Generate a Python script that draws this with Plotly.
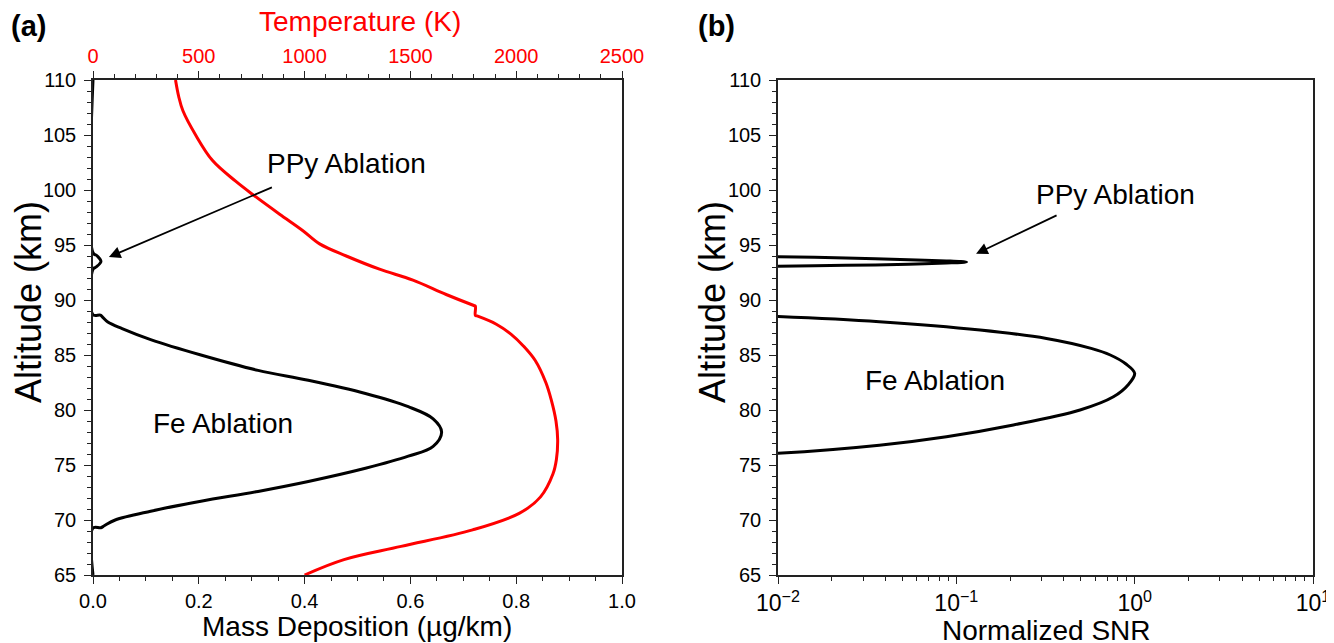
import math
import plotly.graph_objects as go

# ---------------- data ----------------
# Panel (a): Fe / PPy mass deposition profile (black)
alt_mass = [110, 94.3, 94.0, 93.5, 93.0, 92.8, 88.66, 88.62, 88.45, 88.0, 87.4, 86.4, 85.0,
            83.6, 82.7, 81.5, 80.3, 79.2, 78.0, 76.7, 75.8, 74.7, 73.5, 72.6, 71.7, 70.8,
            70.0, 69.5, 69.3, 69.28, 65]
mass_dep = [0, 0, 0.008, 0.015, 0.006, 0, 0, 0.014, 0.018, 0.028, 0.055, 0.109, 0.204,
            0.312, 0.407, 0.515, 0.596, 0.643, 0.659, 0.643, 0.596, 0.515, 0.407, 0.312, 0.204, 0.109,
            0.042, 0.022, 0.015, 0, 0]

# Panel (a): temperature profile (red)
alt_temp = [110, 108.5, 107.2, 105, 102.7, 100.8, 99.5, 97.8, 96.3, 95.1, 94.0, 92.8, 91.8,
            90.5, 89.5, 89.45, 88.6, 88.55, 87.8, 86.9, 85.8, 84.5, 82.5, 80.9, 79.0, 77.3, 75.5, 74.2,
            72.1, 70.6, 69.1, 67.6, 66.4, 65]
temp_K = [390, 405, 425, 485, 564, 674, 761, 882, 992, 1071, 1197, 1354, 1512,
          1669, 1800, 1807, 1807, 1815, 1906, 1975, 2035, 2090, 2140, 2166, 2188, 2196, 2190, 2174,
          2115, 2014, 1794, 1456, 1186, 1000]

# Panel (b): normalized SNR, Fe ablation
alt_snr_fe = [88.55, 88.5, 88.03, 87.27, 86.5, 85.6, 85.0, 84.2, 83.33, 82.3, 81.2, 80.0,
              78.64, 77.57, 76.8, 76.06, 76.0]
snr_fe = [0.008, 0.01, 0.037, 0.136, 0.32, 0.57, 0.73, 0.89, 1.0, 0.92, 0.76, 0.494,
          0.209, 0.088, 0.037, 0.01, 0.008]

# Panel (b): normalized SNR, PPy ablation
alt_snr_ppy = [93.98, 93.94, 93.82, 93.67, 93.55, 93.45, 93.36, 93.24, 93.15, 93.06, 93.02]
snr_ppy = [0.008, 0.01, 0.024, 0.054, 0.088, 0.114, 0.088, 0.054, 0.024, 0.01, 0.008]

# ticks
alt_ticks = [65, 70, 75, 80, 85, 90, 95, 100, 105, 110]
mass_ticks = [0.0, 0.2, 0.4, 0.6, 0.8, 1.0]
mass_ticktext = ["0.0", "0.2", "0.4", "0.6", "0.8", "1.0"]
temp_ticks = [0, 500, 1000, 1500, 2000, 2500]
snr_ticks = [0.01, 0.1, 1, 10]
snr_ticktext = ["10<sup>\u22122</sup>", "10<sup>\u22121</sup>", "10<sup>0</sup>", "10<sup>1</sup>"]
snr_minor = [m * 10 ** e for e in (-2, -1, 0) for m in range(2, 10)]

# ---------------- figure ----------------
FONT = "Liberation Sans, Arial, sans-serif"
W, H = 1334, 643
OFF = 8  # page body margin
def px(x):
    return (x - OFF) / W
def py(y):
    return 1 - (y - OFF) / H

fig = go.Figure()

fig.add_trace(go.Scatter(x=mass_dep, y=alt_mass, mode="lines",
                         line=dict(color="black", width=3, shape="spline", smoothing=1.0),
                         xaxis="x", yaxis="y", showlegend=False))
fig.add_trace(go.Scatter(x=temp_K, y=alt_temp, mode="lines",
                         line=dict(color="#ff0000", width=3, shape="spline", smoothing=1.0),
                         xaxis="x3", yaxis="y", showlegend=False))
fig.add_trace(go.Scatter(x=snr_fe, y=alt_snr_fe, mode="lines",
                         line=dict(color="black", width=3, shape="spline", smoothing=1.0),
                         xaxis="x2", yaxis="y2", showlegend=False))
fig.add_trace(go.Scatter(x=snr_ppy, y=alt_snr_ppy, mode="lines",
                         line=dict(color="black", width=3, shape="spline", smoothing=0.8),
                         xaxis="x2", yaxis="y2", showlegend=False))

ax_common = dict(showline=True, linecolor="#222", linewidth=1.5, ticks="outside",
                 tickcolor="#222", tickwidth=1.2, ticklen=7, showgrid=False, zeroline=False,
                 automargin=False,
                 tickfont=dict(family=FONT, size=20, color="black"))

ydom = [py(575), py(80)]
fig.update_layout(
    width=W, height=H, margin=dict(l=0, r=0, t=0, b=0, autoexpand=False),
    paper_bgcolor="white", plot_bgcolor="white",
    font=dict(family=FONT, color="black"),
    xaxis=dict(domain=[px(93), px(622)], range=[0, 1.0], anchor="y",
               tickvals=mass_ticks, ticktext=mass_ticktext,
               minor=dict(dtick=0.05, ticks="outside", ticklen=4, tickcolor="#222"),
               **ax_common),
    xaxis3=dict(overlaying="x", side="top", anchor="y", range=[0, 2500],
                tickvals=temp_ticks,
                minor=dict(dtick=100, ticks="outside", ticklen=4, tickcolor="#222"),
                **{**ax_common, "tickfont": dict(family=FONT, size=20, color="#ff0000")}),
    yaxis=dict(domain=ydom, range=[65, 110], anchor="x", mirror=True,
               tickvals=alt_ticks, ticklabelstandoff=4,
               minor=dict(dtick=1, ticks="outside", ticklen=4, tickcolor="#222"),
               **ax_common),
    xaxis2=dict(domain=[px(778), px(1313)], type="log", range=[-2, 1], anchor="y2", mirror=True,
                tickvals=snr_ticks, ticktext=snr_ticktext,
                minor=dict(tickvals=snr_minor, ticks="outside", ticklen=4, tickcolor="#222"),
                **{**ax_common, "tickfont": dict(family=FONT, size=23, color="black")}),
    yaxis2=dict(domain=ydom, range=[65, 110], anchor="x2", mirror=True,
                tickvals=alt_ticks, ticklabelstandoff=4,
                minor=dict(dtick=1, ticks="outside", ticklen=4, tickcolor="#222"),
                **ax_common),
)

def ptext(text, x, y, size, color="black", angle=0):
    return dict(text=text, xref="paper", yref="paper", x=px(x), y=py(y),
                xanchor="center", yanchor="middle", showarrow=False, textangle=angle,
                font=dict(family=FONT, size=size, color=color))

annos = [
    ptext("<b>(a)</b>", 28, 26, 29),
    ptext("<b>(b)</b>", 716, 26, 29),
    ptext("Temperature (K)", 360, 22, 28, color="#ff0000"),
    ptext("Mass Deposition (\u00b5g/km)", 357, 626, 28),
    ptext("Normalized SNR", 1046, 630, 28),
    ptext("Altitude (km)", 28, 302, 36, angle=-90),
    ptext("Altitude (km)", 712, 302, 36, angle=-90),
    dict(text="PPy Ablation", xref="x", yref="y", x=0.48, y=102.45, showarrow=False,
         font=dict(family=FONT, size=28)),
    dict(text="Fe Ablation", xref="x", yref="y", x=0.245, y=78.8, showarrow=False,
         font=dict(family=FONT, size=28)),
    dict(text="", xref="x", yref="y", x=0.03, y=93.9, axref="x", ayref="y", ax=0.341, ay=100.3,
         showarrow=True, arrowhead=2, arrowsize=1.3, arrowwidth=1.8, arrowcolor="black", standoff=0,
         font=dict(family=FONT, size=12)),
    dict(text="PPy Ablation", xref="x2", yref="y2", x=math.log10(0.776), y=99.6, showarrow=False,
         font=dict(family=FONT, size=28)),
    dict(text="Fe Ablation", xref="x2", yref="y2", x=math.log10(0.076), y=82.7, showarrow=False,
         font=dict(family=FONT, size=28)),
    dict(text="", xref="x2", yref="y2", x=math.log10(0.129), y=94.2, axref="x2", ayref="y2",
         ax=math.log10(0.372), ay=97.76,
         showarrow=True, arrowhead=2, arrowsize=1.3, arrowwidth=1.8, arrowcolor="black", standoff=0,
         font=dict(family=FONT, size=12)),
]
fig.update_layout(annotations=annos)

fig.write_html("out.html")
